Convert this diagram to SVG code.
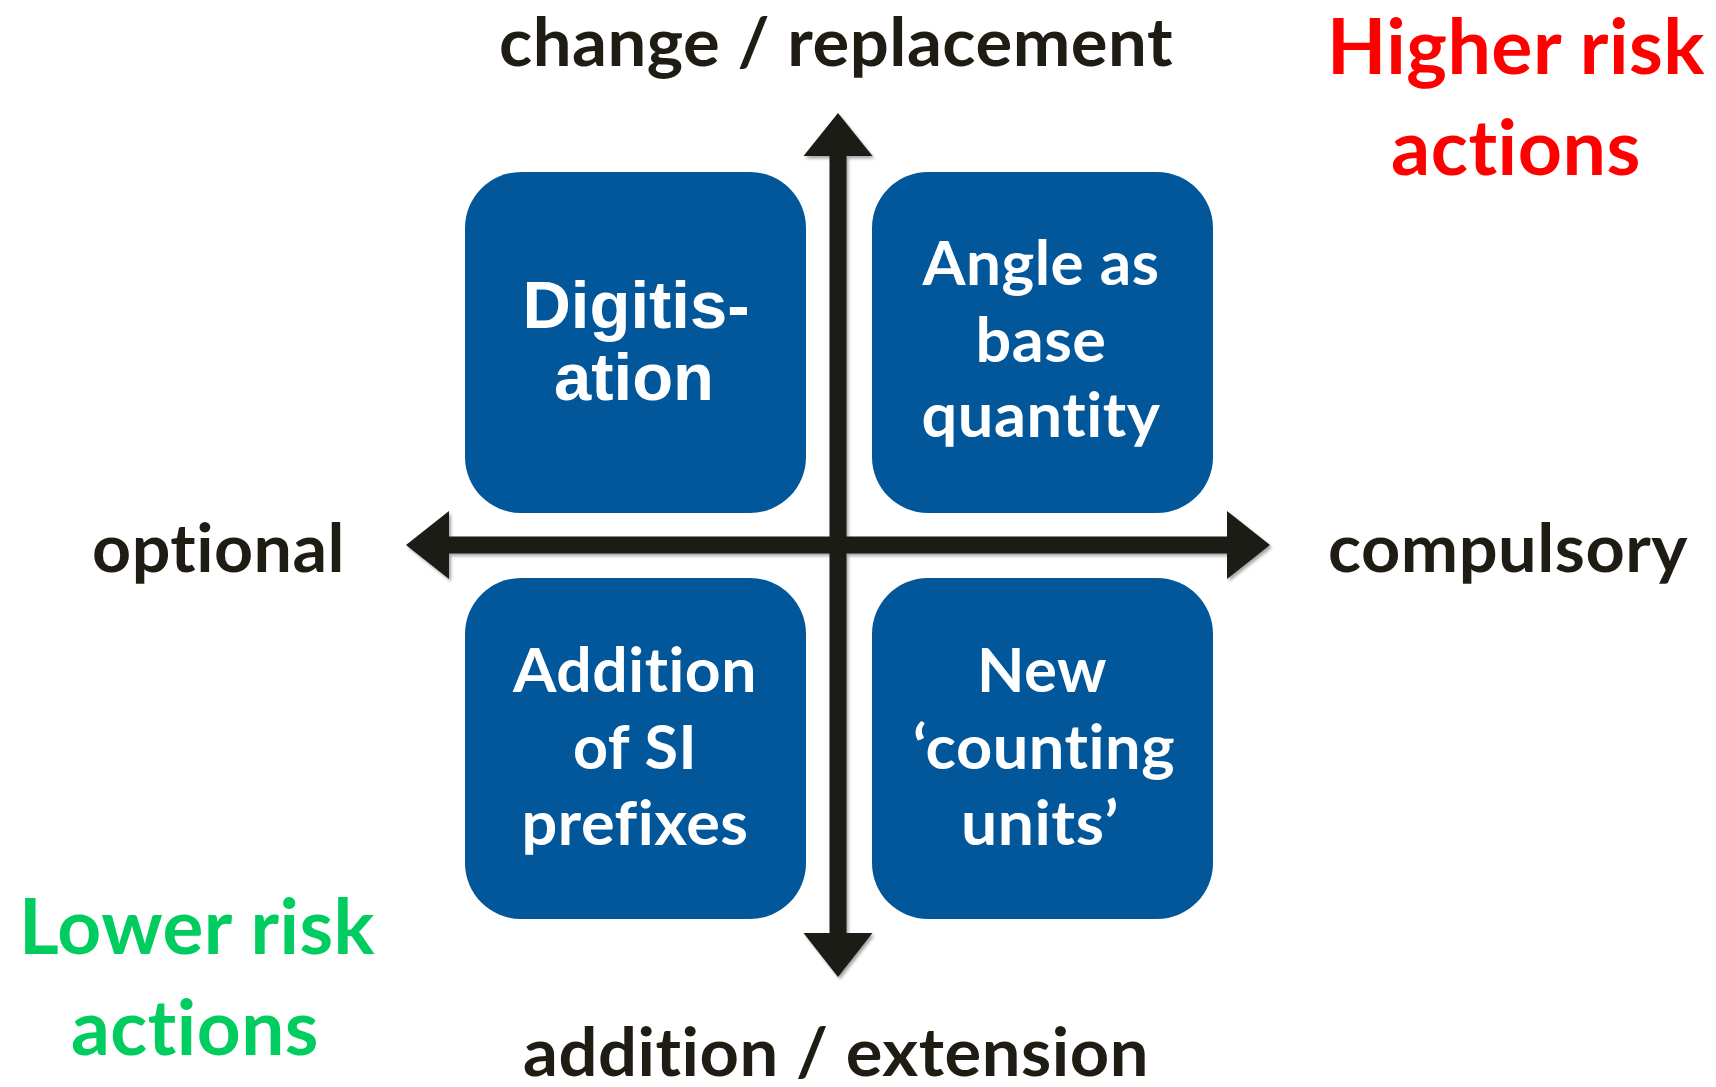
<svg xmlns="http://www.w3.org/2000/svg" width="1716" height="1087" viewBox="0 0 1716 1087">
<style>
.lbl{font-family:Lato,"Open Sans",sans-serif;font-weight:bold;text-anchor:middle;font-variant-ligatures:none;font-feature-settings:"liga" 0,"dlig" 0,"clig" 0,"calt" 0,"hlig" 0;letter-spacing:0.5px}
.axis-t{fill:#1f1d13;font-size:67px}
.risk{font-size:77px}
.box{fill:#02569a}
.bt{fill:#ffffff;font-size:61px}
.arial{font-family:"Liberation Sans",Arial,sans-serif;font-weight:bold;font-size:67px;fill:#ffffff;text-anchor:middle}
.ax{fill:#1f1d13}
</style>
<defs>
<filter id="sh" x="-5%" y="-5%" width="110%" height="110%">
<feDropShadow dx="2" dy="2.5" stdDeviation="1.5" flood-color="#000" flood-opacity="0.35"/>
</filter>
</defs>
<rect width="1716" height="1087" fill="#ffffff"/>

<g id="connectors" filter="url(#sh)">
<rect class="ax" x="446" y="536.5" width="784" height="17"/>
<polygon class="ax" points="406,545 449,511 449,579"/>
<polygon class="ax" points="1270,545 1227,511 1227,579"/>
<rect class="ax" x="829.5" y="153" width="17" height="783"/>
<polygon class="ax" points="838,113 803.5,156 872.5,156"/>
<polygon class="ax" points="838,977 803.5,933 872.5,933"/>
</g>

<g id="node-digitisation">
<rect class="box" x="465" y="172" width="341" height="341" rx="56"/>
<text class="arial" x="636" y="328">Digitis-</text>
<text class="arial" x="634" y="400">ation</text>
</g>

<g id="node-angle">
<rect class="box" x="872" y="172" width="341" height="341" rx="56"/>
<text class="lbl bt" x="1041" y="285" textLength="237" lengthAdjust="spacingAndGlyphs">Angle as</text>
<text class="lbl bt" x="1041" y="362" textLength="131" lengthAdjust="spacingAndGlyphs">base</text>
<text class="lbl bt" x="1041" y="437" textLength="239" lengthAdjust="spacingAndGlyphs">quantity</text>
</g>

<g id="node-prefixes">
<rect class="box" x="465" y="578" width="341" height="341" rx="56"/>
<text class="lbl bt" x="635" y="692" textLength="244" lengthAdjust="spacingAndGlyphs">Addition</text>
<text class="lbl bt" x="635" y="769" textLength="124" lengthAdjust="spacingAndGlyphs">of SI</text>
<text class="lbl bt" x="635" y="845" textLength="227" lengthAdjust="spacingAndGlyphs">prefixes</text>
</g>

<g id="node-counting">
<rect class="box" x="872" y="578" width="341" height="341" rx="56"/>
<text class="lbl bt" x="1042" y="692" textLength="130" lengthAdjust="spacingAndGlyphs">New</text>
<text class="lbl bt" x="1044" y="769" textLength="262" lengthAdjust="spacingAndGlyphs">‘counting</text>
<text class="lbl bt" x="1040" y="845" textLength="158" lengthAdjust="spacingAndGlyphs">units’</text>
</g>

<g id="axis-labels">
<text class="lbl axis-t" x="836" y="66" textLength="674" lengthAdjust="spacingAndGlyphs">change / replacement</text>
<text class="lbl axis-t" x="836" y="1076" textLength="626" lengthAdjust="spacingAndGlyphs">addition / extension</text>
<text class="lbl axis-t" x="218.5" y="572" textLength="253" lengthAdjust="spacingAndGlyphs">optional</text>
<text class="lbl axis-t" x="1508" y="572" textLength="360" lengthAdjust="spacingAndGlyphs">compulsory</text>
</g>

<g id="risk-labels">
<text class="lbl risk" fill="#ff0000" x="1516" y="74" textLength="378" lengthAdjust="spacingAndGlyphs">Higher risk</text>
<text class="lbl risk" fill="#ff0000" x="1516" y="175" textLength="250" lengthAdjust="spacingAndGlyphs">actions</text>
<text class="lbl risk" fill="#00cc60" x="197" y="954" textLength="356" lengthAdjust="spacingAndGlyphs">Lower risk</text>
<text class="lbl risk" fill="#00cc60" x="195" y="1055" textLength="248" lengthAdjust="spacingAndGlyphs">actions</text>
</g>
</svg>
